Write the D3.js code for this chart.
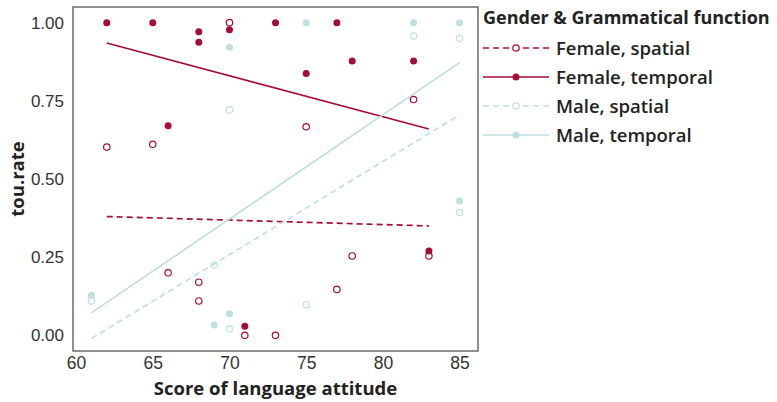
<!DOCTYPE html>
<html>
<head>
<meta charset="utf-8">
<script src="https://cdn.jsdelivr.net/npm/d3@7/dist/d3.min.js"></script>
<style>
  html, body { margin: 0; padding: 0; background: #fff; }
  svg { display: block; font-family: "Open Sans", "Noto Sans", sans-serif; }
</style>
</head>
<body>
<svg id="chart" width="777" height="402"></svg>
<script>
// Scores of language attitude (x) and tou.rate (y) per speaker group
const femaleSpatialX  = [62, 65, 66, 68, 68, 70, 71, 73, 75, 77, 78, 82, 83];
const femaleSpatialY  = [0.602, 0.611, 0.20, 0.17, 0.11, 1.00, 0.00, 0.00, 0.667, 0.147, 0.254, 0.754, 0.254];
const femaleTemporalX = [62, 65, 66, 68, 68, 70, 71, 73, 75, 77, 78, 82, 83];
const femaleTemporalY = [1.00, 1.00, 0.67, 0.971, 0.937, 0.977, 0.029, 1.00, 0.837, 1.00, 0.877, 0.877, 0.27];
const maleSpatialX    = [61, 69, 70, 70, 75, 82, 85, 85];
const maleSpatialY    = [0.11, 0.224, 0.721, 0.021, 0.098, 0.957, 0.949, 0.393];
const maleTemporalX   = [61, 69, 70, 70, 75, 82, 85, 85];
const maleTemporalY   = [0.128, 0.033, 0.921, 0.069, 1.00, 1.00, 1.00, 0.43];

// Linear fit per group: [x start, fitted y] and [x end, fitted y]
const femaleSpatialFit  = [[62, 0.380], [83, 0.350]];
const femaleTemporalFit = [[62, 0.935], [83, 0.660]];
const maleSpatialFit    = [[61, -0.010], [85, 0.705]];
const maleTemporalFit   = [[61, 0.072], [85, 0.872]];

const seriesLabels = ["Female, spatial", "Female, temporal", "Male, spatial", "Male, temporal"];
const xTicks = [60, 65, 70, 75, 80, 85];
const yTicks = [0, 0.25, 0.5, 0.75, 1];
const legendTitle = "Gender & Grammatical function";
const xTitle = "Score of language attitude";
const yTitle = "tou.rate";

const crimson = "#a50d35";
const paleBlue = "#bfdfe1";

const series = [
  { label: seriesLabels[0], xs: femaleSpatialX,  ys: femaleSpatialY,  fit: femaleSpatialFit,  color: crimson,  open: true,  dashed: true },
  { label: seriesLabels[1], xs: femaleTemporalX, ys: femaleTemporalY, fit: femaleTemporalFit, color: crimson,  open: false, dashed: false },
  { label: seriesLabels[2], xs: maleSpatialX,    ys: maleSpatialY,    fit: maleSpatialFit,    color: paleBlue, open: true,  dashed: true },
  { label: seriesLabels[3], xs: maleTemporalX,   ys: maleTemporalY,   fit: maleTemporalFit,   color: paleBlue, open: false, dashed: false }
];

const svg = d3.select("#chart");
const panel = { left: 73, right: 478, top: 7, bottom: 351 };

const x = d3.scaleLinear().domain([59.8, 86.2]).range([panel.left, panel.right]);
const y = d3.scaleLinear().domain([-0.05, 1.05]).range([panel.bottom, panel.top]);

// Points
const filledR = 3.5, openR = 3.2;
series.forEach(s => {
  svg.append("g").selectAll("circle")
    .data(s.xs.map((v, i) => [v, s.ys[i]]))
    .join("circle")
    .attr("cx", d => x(d[0]))
    .attr("cy", d => y(d[1]))
    .attr("r", s.open ? openR : filledR)
    .attr("fill", s.open ? "none" : s.color)
    .attr("stroke", s.color)
    .attr("stroke-width", s.open ? 1.2 : 0);
});

// Fitted lines
const line = d3.line().x(d => x(d[0])).y(d => y(d[1]));
series.forEach(s => {
  svg.append("path")
    .attr("d", line(s.fit))
    .attr("fill", "none")
    .attr("stroke", s.color)
    .attr("stroke-width", 1.7)
    .attr("stroke-dasharray", s.dashed ? "6,4" : null);
});

// Panel border
svg.append("rect")
  .attr("x", panel.left).attr("y", panel.top)
  .attr("width", panel.right - panel.left)
  .attr("height", panel.bottom - panel.top)
  .attr("fill", "none")
  .attr("stroke", "#555")
  .attr("stroke-width", 1.3);

// Axes (labels only, no domain line or tick marks)
const xAxis = svg.append("g")
  .attr("transform", `translate(0,${panel.bottom})`)
  .call(d3.axisBottom(x).tickValues(xTicks).tickSize(0).tickPadding(6).tickFormat(d3.format("d")));
xAxis.select(".domain").remove();
xAxis.selectAll("text").attr("font-size", 17.5).attr("fill", "#333").attr("font-family", null);

const yAxis = svg.append("g")
  .attr("transform", `translate(${panel.left},0)`)
  .call(d3.axisLeft(y).tickValues(yTicks).tickSize(0).tickPadding(9).tickFormat(d3.format(".2f")));
yAxis.select(".domain").remove();
yAxis.selectAll("text").attr("font-size", 17).attr("fill", "#333").attr("font-family", null);

// Axis titles
svg.append("text")
  .attr("x", (panel.left + panel.right) / 2)
  .attr("y", 395)
  .attr("text-anchor", "middle")
  .attr("font-size", 18.5)
  .attr("font-weight", 700)
  .attr("fill", "#222")
  .text(xTitle);

svg.append("text")
  .attr("transform", `translate(24,${(panel.top + panel.bottom) / 2}) rotate(-90)`)
  .attr("text-anchor", "middle")
  .attr("font-size", 18.5)
  .attr("font-weight", 700)
  .attr("fill", "#222")
  .text(yTitle);

// Legend
const legend = svg.append("g").attr("transform", "translate(483,0)");
legend.append("text")
  .attr("x", 0).attr("y", 24)
  .attr("font-size", 18)
  .attr("font-weight", 700)
  .attr("fill", "#222")
  .text(legendTitle);

const keyY = [48, 77, 106, 135];
series.forEach((s, i) => {
  const g = legend.append("g").attr("transform", `translate(0,${keyY[i]})`);
  g.append("line")
    .attr("x1", 0).attr("x2", 66)
    .attr("stroke", s.color)
    .attr("stroke-width", 1.7)
    .attr("stroke-dasharray", s.dashed ? "6,4" : null);
  g.append("circle")
    .attr("cx", 33).attr("cy", 0)
    .attr("r", s.open ? openR : filledR)
    .attr("fill", s.open ? "#fff" : s.color)
    .attr("stroke", s.color)
    .attr("stroke-width", s.open ? 1.2 : 0);
  g.append("text")
    .attr("x", 73).attr("y", 0)
    .attr("dy", "0.36em")
    .attr("font-size", 18.5)
    .attr("font-weight", 600)
    .attr("fill", "#222")
    .text(s.label);
});
</script>
</body>
</html>
